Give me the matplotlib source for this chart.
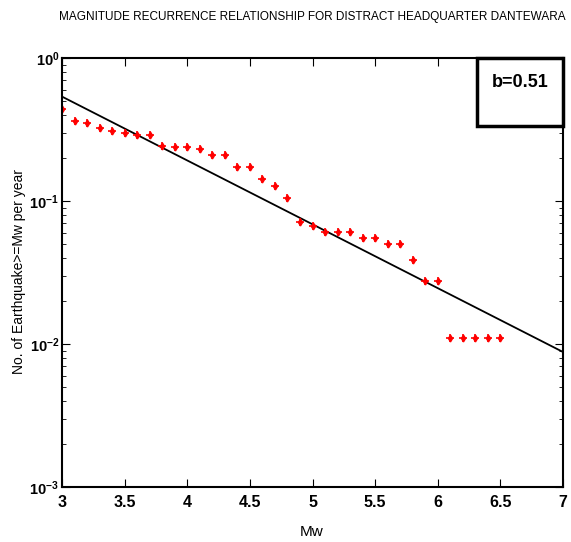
import numpy as np
import matplotlib.pyplot as plt
from matplotlib import font_manager
from matplotlib.patches import Rectangle
from matplotlib.ticker import LogLocator, FixedLocator, FormatStrFormatter

# magnitude bins and cumulative annual rate
mw = [3.0, 3.1, 3.2, 3.3, 3.4, 3.5, 3.6, 3.7, 3.8, 3.9, 4.0, 4.1, 4.2, 4.3,
      4.4, 4.5, 4.6, 4.7, 4.8, 4.9, 5.0, 5.1, 5.2, 5.3, 5.4, 5.5, 5.6, 5.7,
      5.8, 5.9, 6.0, 6.1, 6.2, 6.3, 6.4, 6.5]
rate = [0.44, 0.364, 0.349, 0.326, 0.307, 0.299, 0.291, 0.291, 0.242, 0.239,
        0.239, 0.231, 0.210, 0.210, 0.172, 0.172, 0.143, 0.127, 0.105, 0.071,
        0.0665, 0.061, 0.061, 0.061, 0.0554, 0.0554, 0.0498, 0.0498, 0.0389,
        0.0277, 0.0277, 0.0111, 0.0111, 0.0111, 0.0111, 0.0111]

# fitted Gutenberg-Richter line end points
fit_mw = [3.0, 7.0]
fit_rate = [0.537, 0.00879]
b_text = 'b=0.51'

# pick a narrow font if one is around, else Arial-like Liberation Sans
installed = {f.name for f in font_manager.fontManager.ttflist}
narrow = 'Liberation Sans'
for name in ['Liberation Sans Narrow', 'DejaVu Sans Condensed']:
    if name in installed:
        narrow = name
        break

plt.rcParams['font.family'] = ['Liberation Sans', 'DejaVu Sans']
plt.rcParams['mathtext.fontset'] = 'custom'
plt.rcParams['mathtext.rm'] = narrow
plt.rcParams['mathtext.bf'] = narrow + ':bold'
plt.rcParams['mathtext.default'] = 'bf'

fig = plt.figure(figsize=(5.71, 5.42), dpi=100)
ax = fig.add_axes([0.1086, 0.1015, 0.8774, 0.7915])

ax.plot(fit_mw, fit_rate, color='black', lw=1.3)
ax.plot(mw, rate, linestyle='none', marker='d', ms=3.5, color='red', mec='red')
ax.plot(mw, rate, linestyle='none', marker='+', ms=6, mew=1.2, color='red')

ax.set_yscale('log')
ax.set_xlim(3, 7)
ax.set_ylim(1e-3, 1)
ax.xaxis.set_major_locator(FixedLocator(np.arange(3, 7.01, 0.5)))
ax.xaxis.set_major_formatter(FormatStrFormatter('%g'))
ax.yaxis.set_major_locator(LogLocator(base=10, numticks=10))
ax.yaxis.set_minor_locator(LogLocator(base=10, subs=np.arange(2, 10), numticks=10))

ax.tick_params(which='both', direction='in', top=True, right=True)
ax.tick_params(which='major', length=6, width=0.8)
ax.tick_params(which='minor', length=3, width=0.6)
ax.tick_params(axis='x', pad=6)
ax.tick_params(axis='y', pad=2)
for lab in ax.get_xticklabels():
    lab.set_family(narrow)
    lab.set_fontweight('bold')
    lab.set_fontsize(11.5)
for lab in ax.get_yticklabels():
    lab.set_family(narrow)
    lab.set_fontweight('bold')
    lab.set_fontsize(10.5)
for s in ax.spines.values():
    s.set_linewidth(1.5)

fig.text(312 / 571, 1 - 17 / 542,
         'MAGNITUDE RECURRENCE RELATIONSHIP FOR DISTRACT HEADQUARTER DANTEWARA',
         family=narrow, fontsize=8.5, ha='center', va='center')
fig.text(312 / 571, 1 - 532 / 542, 'Mw', family=narrow, fontsize=11,
         ha='center', va='center')
fig.text(19 / 571, 0.5, 'No. of Earthquake>=Mw per year', fontsize=10,
         rotation=90, ha='center', va='center')

ax.add_patch(Rectangle((0.828, 0.841), 0.172, 0.159, transform=ax.transAxes,
                       facecolor='white', edgecolor='black', lw=2.5, clip_on=False, zorder=5))
ax.text(0.914, 0.944, b_text, transform=ax.transAxes, ha='center', va='center',
        family=narrow, fontweight='bold', fontsize=13, zorder=6)

plt.savefig('out.png', dpi=100)
